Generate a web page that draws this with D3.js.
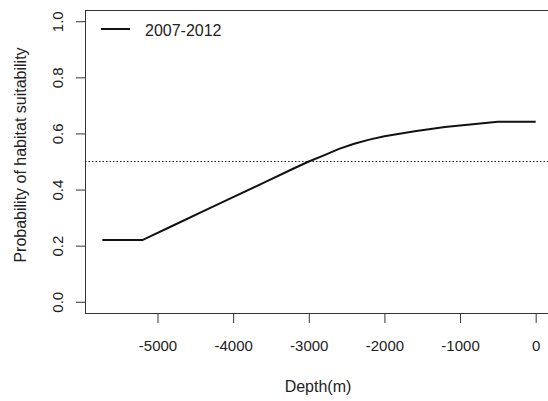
<!DOCTYPE html>
<html>
<head>
<meta charset="utf-8">
<script src="https://cdn.jsdelivr.net/npm/d3@7"></script>
<style>
  body { margin: 0; background: #fff; }
  text { font-family: "Liberation Sans", Arial, sans-serif; fill: #222; }
</style>
</head>
<body>
<script>
// depth (m) and predicted probability
var depths = [-5730, -5200, -4800, -4400, -4000, -3600, -3200, -3000, -2800, -2600, -2400, -2200, -2000, -1600, -1200, -800, -500, 0];
var probs = [0.22, 0.22, 0.271, 0.322, 0.373, 0.424, 0.475, 0.50, 0.522, 0.545, 0.563, 0.578, 0.59, 0.608, 0.623, 0.634, 0.642, 0.642];
var xTicks = [-5000, -4000, -3000, -2000, -1000, 0];
var yTicks = [0.0, 0.2, 0.4, 0.6, 0.8, 1.0];
var seriesName = "2007-2012";
var threshold = 0.5;

var width = 548, height = 401;
var svg = d3.select("body")
    .append("svg")
    .attr("width", width)
    .attr("height", height);

var x = d3.scaleLinear()
    .domain([-5959, 229])
    .range([85, 553]);
var y = d3.scaleLinear()
    .domain([-0.04, 1.04])
    .range([313, 10]);

// plot box
svg.append("rect")
    .attr("x", 85.5)
    .attr("y", 10.5)
    .attr("width", 553 - 85)
    .attr("height", 313 - 10)
    .attr("fill", "none")
    .attr("stroke", "#333")
    .attr("stroke-width", 1);

// x axis (plain hyphen for minus, like R)
var xAxis = svg.append("g")
    .attr("transform", "translate(0,313)")
    .call(d3.axisBottom(x).tickValues(xTicks).tickSize(10).tickFormat(function (d) { return String(d); }));
xAxis.select(".domain").remove();
xAxis.selectAll("line").attr("stroke", "#333");
xAxis.selectAll("text")
    .style("font-size", "15px")
    .attr("fill", "#222")
    .attr("y", 32)
    .attr("dy", null)
    .attr("dominant-baseline", "central");

// y axis (rotated labels as in R)
var yAxis = svg.append("g")
    .attr("transform", "translate(85,0)")
    .call(d3.axisLeft(y).tickValues(yTicks).tickSize(9).tickFormat(d3.format(".1f")));
yAxis.select(".domain").remove();
yAxis.selectAll("line").attr("stroke", "#333");
yAxis.selectAll("text")
    .style("font-size", "15px")
    .attr("fill", "#222")
    .attr("x", null)
    .attr("dy", null)
    .attr("text-anchor", "middle")
    .attr("transform", "translate(-28,0) rotate(-90)")
    .attr("dominant-baseline", "central");

// axis titles
svg.append("text")
    .attr("x", 318)
    .attr("y", 386)
    .attr("text-anchor", "middle")
    .attr("dominant-baseline", "central")
    .style("font-size", "16px")
    .text("Depth(m)");

svg.append("text")
    .attr("transform", "translate(20,155) rotate(-90)")
    .attr("text-anchor", "middle")
    .attr("dominant-baseline", "central")
    .style("font-size", "16px")
    .text("Probability of habitat suitability");

// threshold
svg.append("line")
    .attr("x1", 85)
    .attr("x2", 553)
    .attr("y1", y(threshold))
    .attr("y2", y(threshold))
    .attr("stroke", "#222")
    .attr("stroke-width", 1)
    .attr("stroke-dasharray", "1.5,2");

// curve
var data = depths.map(function (d, i) { return [d, probs[i]]; });
var line = d3.line()
    .x(function (d) { return x(d[0]); })
    .y(function (d) { return y(d[1]); });
svg.append("path")
    .datum(data)
    .attr("d", line)
    .attr("fill", "none")
    .attr("stroke", "#111")
    .attr("stroke-width", 2);

// legend
svg.append("line")
    .attr("x1", 101)
    .attr("x2", 130)
    .attr("y1", 29)
    .attr("y2", 29)
    .attr("stroke", "#111")
    .attr("stroke-width", 2);
svg.append("text")
    .attr("x", 145)
    .attr("y", 30)
    .attr("dominant-baseline", "central")
    .style("font-size", "16px")
    .text(seriesName);
</script>
</body>
</html>
